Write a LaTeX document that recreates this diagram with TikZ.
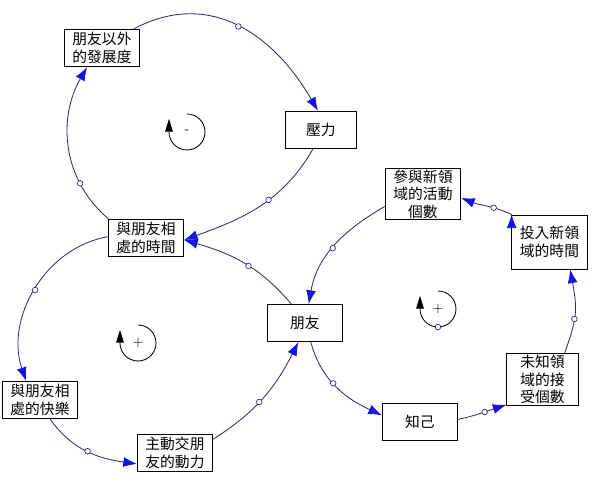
\documentclass[tikz,border=0pt]{standalone}
\usepackage{fontspec}
\newfontfamily\cjk{Noto Sans CJK TC}
\usepackage{tikz}
\usetikzlibrary{positioning,arrows.meta}
\definecolor{linknavy}{RGB}{45,45,125}
\definecolor{tipblue}{RGB}{20,20,225}

\begin{document}
\begin{tikzpicture}[->,>={Latex[length=3.4mm,width=2.5mm,color=tipblue]},on grid,
      var node/.style={rectangle,draw,line width=0.7pt,align=center,inner sep=1pt,
        minimum width=1.88cm,minimum height=0.93cm,font=\cjk\fontsize{10.5}{12.5}\selectfont},
      link/.style={draw=linknavy,line width=0.6pt},
      dot node/.style={circle,draw=linknavy,fill=white,line width=0.5pt,inner sep=0pt,minimum size=1.4mm},
      loop sign/.style={font=\fontsize{10}{11}\selectfont,inner sep=0pt},
      loop line/.style={draw=black,line width=0.6pt,-{Triangle[length=3.2mm,width=1.9mm]}}]
      \useasboundingbox (-7.625,-4.075) rectangle (7.375,8.075);

      \node[var node] (friends) {朋友};
      \node[var node] (fazhan) [above left=6.875cm and 5.075cm of friends] {朋友以外\\的發展度};
      \node[var node,minimum width=1.78cm] (stress) [above right=4.825cm and 0.4cm of friends] {壓力};
      \node[var node] (together) [above left=2.125cm and 3.975cm of friends] {與朋友相\\處的時間};
      \node[var node] (activities) [above right=3.225cm and 2.95cm of friends] {參與新領\\域的活動\\個數};
      \node[var node,minimum height=1.35cm] (newtime) [above right=2.025cm and 6.1125cm of friends] {投入新領\\域的時間};
      \node[var node,minimum width=1.78cm] (accept) [below right=1.4125cm and 5.9375cm of friends] {未知領\\域的接\\受個數};
      \node[var node] (selfknow) [below right=2.475cm and 2.875cm of friends] {知己};
      \node[var node] (joy) [below left=1.925cm and 6.625cm of friends] {與朋友相\\處的快樂};
      \node[var node] (drive) [below left=3.25cm and 3.25cm of friends] {主動交朋\\友的動力};

      % loop signs
      \node[loop sign] (loopA) [above left=4.775cm and 2.95cm of friends] {-};
      \node[loop sign] (loopB) [below left=0.5cm and 4.175cm of friends] {+};
      \node[loop sign] (loopC) [above right=0.35cm and 3.325cm of friends] {+};

      \path[->,link]
        (fazhan.31) edge [out=28,in=120,looseness=1.1] node[dot node,pos=0.5] {} (stress.99)
        (stress.-113) edge [out=-120,in=20] node[dot node,pos=0.42] {} (together.-3)
        (together.153) edge [out=140,in=-120] node[dot node,pos=0.27] {} (fazhan.-128)

        (together.178) edge [out=190,in=109] node[dot node,pos=0.5] {} (joy.126)
        (joy.-62) edge [out=-55,in=172] node[dot node,pos=0.5] {} (drive.196)
        (drive.20) edge [out=32,in=-117] node[dot node,pos=0.45] {} (friends.-109)
        (friends.126) edge [out=130,in=-16] node[dot node,pos=0.45] {} (together.-3)

        (activities.198) edge [out=210,in=80] node[dot node,pos=0.52] {} (friends.79)
        (friends.-73) edge [out=-75,in=155] node[dot node,pos=0.45] {} (selfknow.170)
        (selfknow.4) edge [out=12,in=-162] node[dot node,pos=0.55] {} (accept.-145)
        (accept.50) edge [out=70,in=-80,looseness=1.2] node[dot node,pos=0.4] {} (newtime.-53)
        (newtime.144) edge [out=155,in=-21] node[dot node,pos=0.35] {} (activities.-6);

      \draw[loop line] (loopA.center) ++(90:0.45) arc[start angle=90,end angle=-180,radius=0.45] -- ++(0,0.33);
      \draw[loop line] (loopB.center) ++(90:0.45) arc[start angle=90,end angle=-180,radius=0.45] -- ++(0,0.33);
      \draw[loop line] (loopC.center) ++(90:0.45) arc[start angle=90,end angle=-90,radius=0.45]
        node[dot node] {} arc[start angle=-90,end angle=-180,radius=0.45] -- ++(0,0.33);
    \end{tikzpicture}
\end{document}
